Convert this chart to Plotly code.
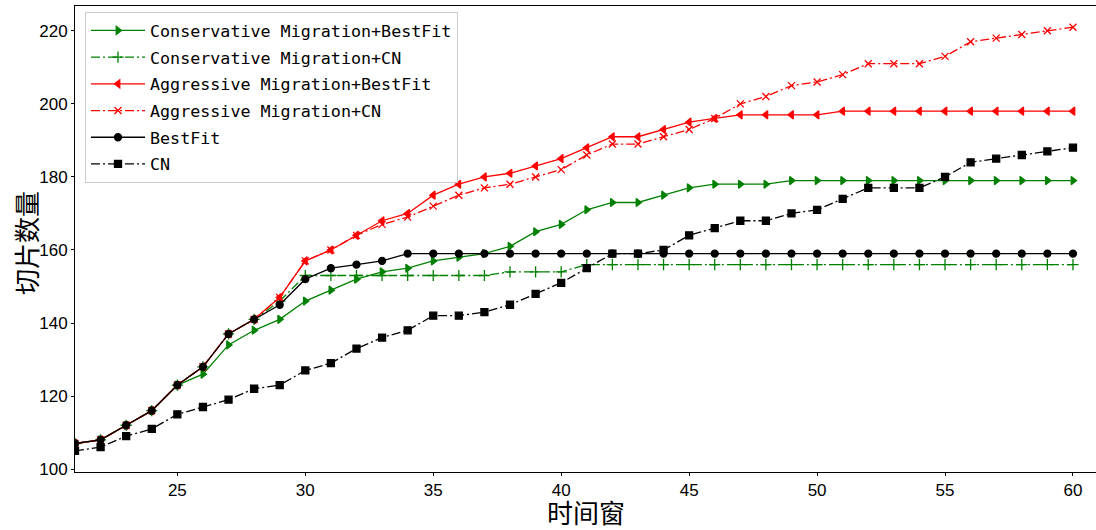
import plotly.graph_objects as go

# time windows
windows = list(range(21, 61))

cons_bestfit = [107, 108, 112, 116, 123, 126, 134, 138, 141, 146,
                149, 152, 154, 155, 157, 158, 159, 161, 165, 167,
                171, 173, 173, 175, 177, 178, 178, 178, 179, 179,
                179, 179, 179, 179, 179, 179, 179, 179, 179, 179]
cons_cn = [107, 108, 112, 116, 123, 128, 137, 141, 146, 153,
           153, 153, 153, 153, 153, 153, 153, 154, 154, 154,
           156, 156, 156, 156, 156, 156, 156, 156, 156, 156,
           156, 156, 156, 156, 156, 156, 156, 156, 156, 156]
aggr_bestfit = [107, 108, 112, 116, 123, 128, 137, 141, 147, 157,
                160, 164, 168, 170, 175, 178, 180, 181, 183, 185,
                188, 191, 191, 193, 195, 196, 197, 197, 197, 197,
                198, 198, 198, 198, 198, 198, 198, 198, 198, 198]
aggr_cn = [107, 108, 112, 116, 123, 128, 137, 141, 147, 157,
           160, 164, 167, 169, 172, 175, 177, 178, 180, 182,
           186, 189, 189, 191, 193, 196, 200, 202, 205, 206,
           208, 211, 211, 211, 213, 217, 218, 219, 220, 221]
bestfit = [107, 108, 112, 116, 123, 128, 137, 141, 145, 152,
           155, 156, 157, 159, 159, 159, 159, 159, 159, 159,
           159, 159, 159, 159, 159, 159, 159, 159, 159, 159,
           159, 159, 159, 159, 159, 159, 159, 159, 159, 159]
cn = [105, 106, 109, 111, 115, 117, 119, 122, 123, 127,
      129, 133, 136, 138, 142, 142, 143, 145, 148, 151,
      155, 159, 159, 160, 164, 166, 168, 168, 170, 171,
      174, 177, 177, 177, 180, 184, 185, 186, 187, 188]

x_ticks = [25, 30, 35, 40, 45, 50, 55, 60]
y_ticks = [100, 120, 140, 160, 180, 200, 220]

DASHDOT = "9px,3px,2px,3px"

series = [
    ("Conservative Migration+BestFit", cons_bestfit, "green", "solid", "triangle-right", 7),
    ("Conservative Migration+CN", cons_cn, "green", DASHDOT, "cross-thin-open", 8),
    ("Aggressive Migration+BestFit", aggr_bestfit, "red", "solid", "triangle-left", 7),
    ("Aggressive Migration+CN", aggr_cn, "red", DASHDOT, "x-thin-open", 7),
    ("BestFit", bestfit, "black", "solid", "circle", 7),
    ("CN", cn, "black", DASHDOT, "square", 7),
]

fig = go.Figure()
for i, (name, vals, color, dash, symbol, msize) in enumerate(series):
    fig.add_trace(go.Scatter(
        x=windows, y=vals, name=name, mode="lines+markers",
        legendgroup=f"g{i}",
        line=dict(color=color, width=1.3, dash=dash),
        marker=dict(symbol=symbol, size=msize, color=color,
                    line=dict(color=color, width=1.3)),
    ))

axis_common = dict(
    showline=True, linecolor="black", linewidth=1, mirror=True,
    ticks="outside", ticklen=3, tickwidth=1, tickcolor="black",
    showgrid=False, zeroline=False,
    tickfont=dict(family="Liberation Sans, Arial", size=17, color="black"),
)

title_font = dict(family="Noto Sans CJK SC", size=26, color="black")

fig.update_layout(
    width=1096, height=530,
    margin=dict(l=75, r=0, t=6, b=58),
    paper_bgcolor="white", plot_bgcolor="white",
    xaxis=dict(range=[21.0, 60.9], tickvals=x_ticks, **axis_common),
    yaxis=dict(range=[99.2, 226.8], tickvals=y_ticks, **axis_common),
    legend=dict(x=0.0098, y=0.987, xanchor="left", yanchor="top",
                bgcolor="rgba(255,255,255,0.8)", bordercolor="#cccccc", borderwidth=1,
                font=dict(family="DejaVu Sans Mono", size=16.7, color="black"),
                itemwidth=54, tracegroupgap=2),
    annotations=[
        dict(text="时间窗", xref="paper", yref="paper", x=0.5, y=0,
             xanchor="center", yanchor="middle", yshift=-39, borderpad=0,
             showarrow=False, font=title_font),
        dict(text="切片数量", xref="paper", yref="paper", x=0, y=0.5,
             xanchor="center", yanchor="middle", xshift=-50, yshift=-4, textangle=-90,
             borderpad=0, showarrow=False, font=title_font),
    ],
    showlegend=True,
)

fig.write_html("out.html")
